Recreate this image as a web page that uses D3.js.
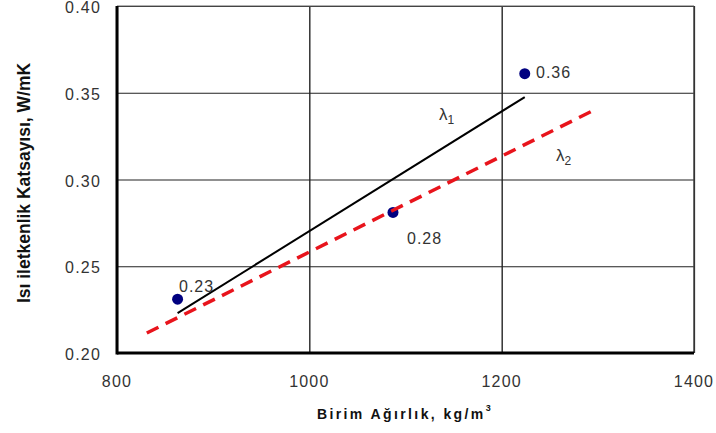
<!DOCTYPE html>
<html>
<head>
	<meta charset="utf-8">
	<script src="https://cdn.jsdelivr.net/npm/d3@7/dist/d3.min.js"></script>
	<style>
		body { margin: 0; background: #fff; }
		text { font-family: "Liberation Sans", Arial, sans-serif; }
	</style>
</head>
<body>
	<svg id="chart" width="716" height="433"></svg>

	<script type="text/javascript">
		// measured points (birim agirlik, isi iletkenlik)
		var pointX = [863, 1087, 1224];
		var pointY = [0.231, 0.281, 0.361];
		var pointLabels = ['0.23', '0.28', '0.36'];

		// fitted lines
		var lambda1X = [863, 1224];
		var lambda1Y = [0.223, 0.3475];
		var lambda2X = [831, 1296];
		var lambda2Y = [0.2115, 0.340];

		var xTicks = [800, 1000, 1200, 1400];
		var yTicks = [0.20, 0.25, 0.30, 0.35, 0.40];

		var svg = d3.select('#chart'),
			plotL = 117, plotR = 694, plotT = 6, plotB = 353;

		var x = d3.scaleLinear().domain([800, 1400]).range([plotL, plotR]);
		var y = d3.scaleLinear().domain([0.20, 0.40]).range([plotB, plotT]);

		// grid
		svg.append('g')
			.attr('transform', 'translate(0,' + plotB + ')')
			.call(d3.axisBottom(x).tickValues(xTicks).tickSize(-(plotB - plotT)).tickFormat(''))
			.call(g => g.select('.domain').remove())
			.selectAll('line').attr('stroke', '#000').attr('stroke-width', 1.2);

		svg.append('g')
			.attr('transform', 'translate(' + plotL + ',0)')
			.call(d3.axisLeft(y).tickValues(yTicks).tickSize(-(plotR - plotL)).tickFormat(''))
			.call(g => g.select('.domain').remove())
			.selectAll('line').attr('stroke', '#222').attr('stroke-width', 1.2);

		// frame: thick left/bottom
		svg.append('line').attr('x1', plotL).attr('x2', plotR).attr('y1', plotT).attr('y2', plotT)
			.attr('stroke', '#666').attr('stroke-width', 1.2);
		svg.append('line').attr('x1', plotR).attr('x2', plotR).attr('y1', plotT).attr('y2', plotB)
			.attr('stroke', '#444').attr('stroke-width', 1.5);
		svg.append('line').attr('x1', plotL).attr('x2', plotL).attr('y1', plotT).attr('y2', plotB + 1.5)
			.attr('stroke', '#000').attr('stroke-width', 3);
		svg.append('line').attr('x1', plotL).attr('x2', plotR).attr('y1', plotB).attr('y2', plotB)
			.attr('stroke', '#000').attr('stroke-width', 3);

		// tick labels
		svg.selectAll('.xlab').data(xTicks).enter().append('text')
			.attr('x', d => x(d)).attr('y', 387)
			.attr('text-anchor', 'middle').attr('font-size', 16).attr('fill', '#333')
			.attr('letter-spacing', 1.2)
			.text(d => d);
		svg.selectAll('.ylab').data(yTicks).enter().append('text')
			.attr('x', 101).attr('y', d => y(d) + 7)
			.attr('text-anchor', 'end').attr('font-size', 16).attr('fill', '#333')
			.attr('letter-spacing', 1.2)
			.text(d => d.toFixed(2));

		// axis titles
		var xt = svg.append('text')
			.attr('x', 405).attr('y', 419)
			.attr('text-anchor', 'middle').attr('font-size', 14).attr('font-weight', 'bold')
			.attr('letter-spacing', 2.4).attr('fill', '#111');
		xt.append('tspan').text('Birim Ağırlık, kg/m');
		xt.append('tspan').attr('font-size', 9).attr('dy', -8).text('3');

		svg.append('text')
			.attr('transform', 'translate(30,183) rotate(-90)')
			.attr('text-anchor', 'middle').attr('font-size', 17.5).attr('font-weight', 'bold')
			.attr('fill', '#111')
			.text('Isı iletkenlik Katsayısı, W/mK');

		var line = d3.line().x(d => x(d[0])).y(d => y(d[1]));

		// lambda 1 solid black
		svg.append('path')
			.datum(d3.zip(lambda1X, lambda1Y))
			.attr('d', line).attr('fill', 'none')
			.attr('stroke', '#000').attr('stroke-width', 2);

		// points
		svg.selectAll('circle').data(d3.zip(pointX, pointY)).enter().append('circle')
			.attr('cx', d => x(d[0])).attr('cy', d => y(d[1])).attr('r', 5.5)
			.attr('fill', '#000080');

		// lambda 2 dashed red
		svg.append('path')
			.datum(d3.zip(lambda2X, lambda2Y))
			.attr('d', line).attr('fill', 'none')
			.attr('stroke', '#e8141c').attr('stroke-width', 3.5)
			.attr('stroke-dasharray', '13,8');

		// point labels
		var labelPos = [[179, 292], [407, 244], [536, 78]];
		svg.selectAll('.plab').data(pointLabels).enter().append('text')
			.attr('x', (d, i) => labelPos[i][0]).attr('y', (d, i) => labelPos[i][1])
			.attr('font-size', 16).attr('fill', '#333').attr('letter-spacing', 1)
			.text(d => d);

		// line labels
		var l1 = svg.append('text').attr('x', 439).attr('y', 120)
			.attr('font-family', '"Liberation Serif", serif').attr('font-size', 17).attr('fill', '#333');
		l1.append('tspan').text('λ');
		l1.append('tspan').attr('font-size', 12).attr('dy', 4).text('1');
		var l2 = svg.append('text').attr('x', 556).attr('y', 161)
			.attr('font-family', '"Liberation Serif", serif').attr('font-size', 17).attr('fill', '#333');
		l2.append('tspan').text('λ');
		l2.append('tspan').attr('font-size', 12).attr('dy', 4).text('2');
	</script>
</body>
</html>
